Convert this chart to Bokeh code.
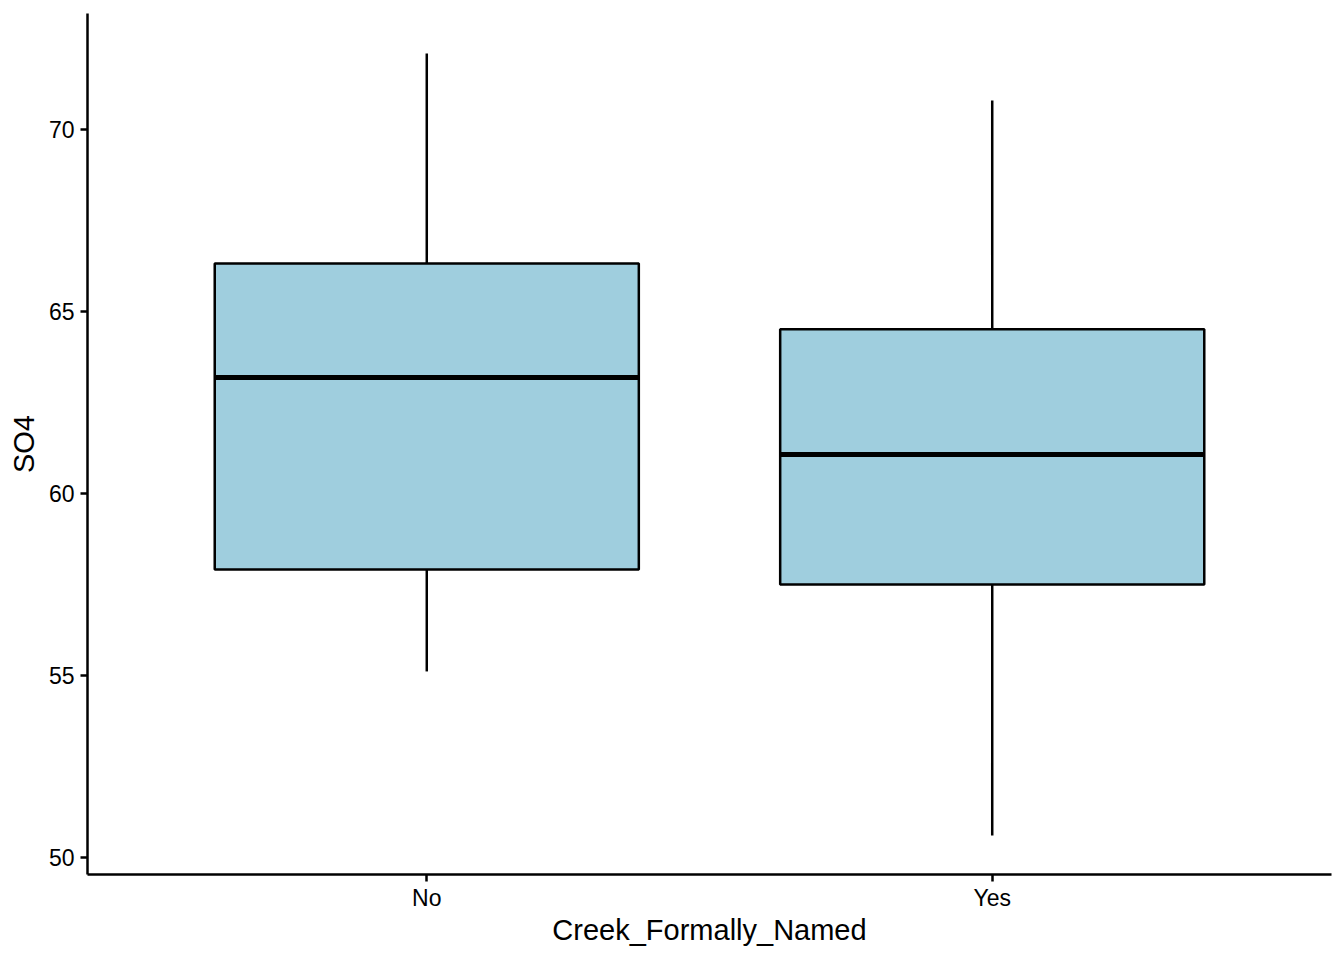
from bokeh.plotting import figure
from bokeh.models import FactorRange, Range1d, FixedTicker
from bokeh.embed import file_html
from bokeh.resources import INLINE

categories = ["No", "Yes"]
upper = [72.09, 70.80]
q3 = [66.32, 64.51]
median = [63.19, 61.07]
q1 = [57.91, 57.50]
lower = [55.11, 50.60]
y_ticks = [50, 55, 60, 65, 70]

FONT = "Liberation Sans"

p = figure(
    x_range=FactorRange(factors=categories, range_padding=0.1, range_padding_units="percent"),
    y_range=Range1d(49.53, 73.19),
    width=1336, height=952,
    output_backend="svg", toolbar_location=None,
    min_border_left=87, min_border_right=5, min_border_top=13, min_border_bottom=78,
)
p.outline_line_color = None
p.xgrid.visible = False
p.ygrid.visible = False
p.background_fill_color = "white"
p.border_fill_color = "white"

# whiskers
p.segment(x0=categories, y0=q3, x1=categories, y1=upper, line_color="black", line_width=2.5)
p.segment(x0=categories, y0=q1, x1=categories, y1=lower, line_color="black", line_width=2.5)
# boxes
p.vbar(x=categories, top=q3, bottom=q1, width=0.75, fill_color="#9FCEDE",
       line_color="black", line_width=2.5)
# medians
p.vbar(x=categories, top=median, bottom=median, width=0.75, fill_color=None,
       line_color="black", line_width=5)

for ax in (p.xaxis[0], p.yaxis[0]):
    ax.axis_line_color = "black"
    ax.axis_line_width = 2.5
    ax.major_tick_line_color = "black"
    ax.major_tick_line_width = 2.5
    ax.major_tick_out = 7
    ax.major_tick_in = 0
    ax.minor_tick_line_color = None
    ax.major_label_text_font = FONT
    ax.major_label_text_font_size = "23px"
    ax.major_label_text_color = "black"
    ax.axis_label_text_font = FONT
    ax.axis_label_text_font_size = "29px"
    ax.axis_label_text_font_style = "normal"
    ax.axis_label_text_color = "black"

p.yaxis.ticker = FixedTicker(ticks=y_ticks)
p.xaxis.axis_label = "Creek_Formally_Named"
p.yaxis.axis_label = "SO4"
p.yaxis.major_label_standoff = 6
p.xaxis.major_label_standoff = 3
p.xaxis.axis_label_standoff = 0
p.yaxis.axis_label_standoff = 6

open("out.html", "w").write(file_html(p, INLINE))
